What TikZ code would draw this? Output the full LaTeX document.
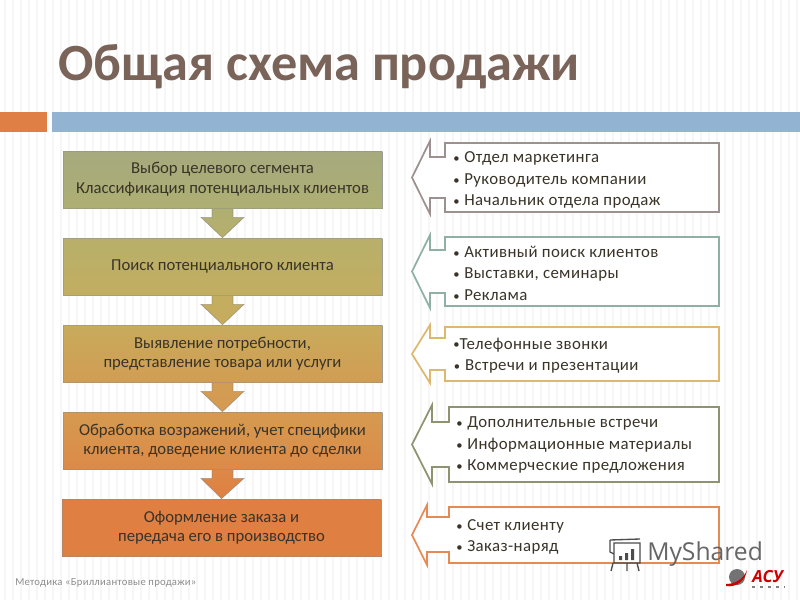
\documentclass[tikz,border=0pt]{standalone}
\usepackage{fontspec}
\setmainfont{Carlito}
\newfontfamily\rfont[LetterSpace=2.5]{Carlito}
\newfontfamily\wfont{Open Sans}
\usetikzlibrary{calc,shadows}
\pgfdeclarelayer{stripes}
\pgfdeclarelayer{arrows}
\pgfsetlayers{stripes,arrows,main}
\definecolor{orangeb}{HTML}{E07F45}
\definecolor{blueb}{HTML}{93B3D2}
\definecolor{titlec}{HTML}{7A645A}
\definecolor{txt}{HTML}{3A3328}
\definecolor{ca}{HTML}{9D9190}
\definecolor{cb}{HTML}{8FB0A6}
\definecolor{cc}{HTML}{DDB86E}
\definecolor{cd}{HTML}{8F9470}
\definecolor{ce}{HTML}{E58A55}
\definecolor{k1}{HTML}{A6AA7E}
\definecolor{k2}{HTML}{ADAF72}
\definecolor{k3}{HTML}{B8AF6B}
\definecolor{k4}{HTML}{C2AE60}
\definecolor{k5}{HTML}{C8AB5C}
\definecolor{k6}{HTML}{D19D53}
\definecolor{k7}{HTML}{D59A50}
\definecolor{k8}{HTML}{DC8A48}
\definecolor{k9}{HTML}{DF7F42}
\newcommand{\bul}{\scalebox{0.75}{•}\hspace{3.6pt}}
\tikzset{
 x=0.75pt,y=-0.75pt,
 stepbox/.style={minimum width=239.25pt,minimum height=42.75pt,inner sep=0pt,align=center,
   font=\fontsize{12.5pt}{14.3pt}\selectfont,text=txt,
   draw=black!45,draw opacity=.45,line width=0.5pt,
   drop shadow={shadow xshift=0.5pt,shadow yshift=-1pt,opacity=.35,fill=black}},
 listtext/.style={anchor=west,align=left,font=\rfont\fontsize{12.6pt}{16.2pt}\selectfont,text=txt,inner sep=0pt},
 flowarrow/.style={draw=black!50,line width=0.5pt,draw opacity=.6},
}
% #1 from node, #2 to node, #3 top colour, #4 bottom colour
\newcommand{\blockdown}[4]{%
 \path[flowarrow,top color=#3,bottom color=#4]
  ($(#1.south)+(-10.5,-3)$) -- ++(0,12) -- ++(-11,0) -- (#2.north) -- ($(#1.south)+(21.5,9)$) -- ++(-11,0) -- ++(0,-12) -- cycle;}
% #1 name, #2 colour, #3 left x, #4 right x, #5 top y, #6 bottom y, #7 head x, #8 notch top y, #9 notch bottom y
\newcommand{\callout}[9]{%
 \coordinate (#1-tip) at (412,{(#5+#6)/2});
 \draw[#2,line width=1.3pt,fill=white,line join=miter]
  (#3,#5) -- (#4,#5) -- (#4,#6) -- (#3,#6) -- (#3,#9) -- (#7,#9) -- (#7,#6+2) -- (#1-tip) -- (#7,#5-2) -- (#7,#8) -- (#3,#8) -- cycle;}
\begin{document}
\begin{tikzpicture}
\useasboundingbox (0,0) rectangle (800,600);
\begin{pgfonlayer}{stripes}
\fill[white] (0,0) rectangle (800,600);
\foreach \i in {0,...,99}{\fill[black!3.5] ({\i*8+4},0) rectangle ({\i*8+6},600);}
\end{pgfonlayer}
\fill[orangeb] (0,112) rectangle (47,132);
\fill[blueb] (52,112) rectangle (800,132);
\node[anchor=base west,inner sep=0pt,text=titlec,font=\bfseries\fontsize{39.2pt}{44pt}\selectfont] (title) at (58,80) {Общая схема продажи};

\node[stepbox,top color=k1,bottom color=k2] (s1) at (222.5,179.5) {\raisebox{-0.7pt}{\shortstack{Выбор целевого сегмента\\[1.3pt]Классификация потенциальных клиентов}}};
\node[stepbox,top color=k3,bottom color=k4] (s2) at (222.5,266.5) {\raisebox{-1.5pt}{Поиск потенциального клиента}};
\node[stepbox,top color=k5,bottom color=k6] (s3) at (222.5,353.5) {Выявление потребности,\\представление товара или услуги};
\node[stepbox,top color=k7,bottom color=k8] (s4) at (222.5,440.5) {Обработка возражений, учет специфики\\клиента, доведение клиента до сделки};
\node[stepbox,top color=k9,bottom color=k9] (s5) at (221.5,527.5) {Оформление заказа и\\передача его в производство};
\begin{pgfonlayer}{arrows}
\blockdown{s1}{s2}{k2}{k3}
\blockdown{s2}{s3}{k4}{k5}
\blockdown{s3}{s4}{k6}{k7}
\blockdown{s4}{s5}{k8}{k9}
\end{pgfonlayer}

\callout{a}{ca}{445}{719}{143}{212}{430}{157}{198}
\callout{b}{cb}{445}{719}{237}{306}{430}{250}{293}
\callout{c}{cc}{445}{719}{327}{381}{430}{338}{370}
\callout{d}{cd}{449}{719}{407}{482}{432}{422}{467}
\callout{e}{ce}{449}{719}{507}{563}{427}{517}{552}

\node[listtext] (ta) at (453,180) {\bul Отдел маркетинга\\\bul Руководитель компании\\\bul Начальник отдела продаж};
\node[listtext] (tb) at (453,273) {\bul Активный поиск клиентов\\\bul Выставки, семинары\\\bul Реклама};
\node[listtext] (tc) at (453,355.5) {\scalebox{0.75}{•}Телефонные звонки\\\hspace{0.5pt}\bul Встречи и презентации};
\node[listtext] (td) at (456,445) {\bul Дополнительные встречи\\\bul Информационные материалы\\\bul Коммерческие предложения};
\node[listtext] (te) at (456,537) {\bul Счет клиенту\\\bul Заказ-наряд};

\node[anchor=west,inner sep=0pt,text=black!45,font=\rfont\fontsize{8pt}{9pt}\selectfont] (foot) at (15,583) {Методика «Бриллиантовые продажи»};

% watermark
\node[anchor=west,inner sep=0pt,text=black!60,font=\wfont\fontsize{18.5pt}{22pt}\selectfont] (wm) at (647,554) {MyShared};
\draw[black!70,line width=1pt] (614,543) rectangle (640,563) (610,540) -- (640,539) (613,563) -- (611,571) (627,563) -- (627,571) (637,563) -- (639,571) (610,540) -- (610,552) -- (614,554);
\fill[black!70] (619,556) rectangle (622,560) (625,553) rectangle (628,560) (631,549) rectangle (634,560);
\node[anchor=west,inner sep=0pt,text=red!80!black,font=\wfont\bfseries\itshape\fontsize{12.5pt}{14pt}\selectfont] (logo) at (752,577) {АСУ};
\fill[black!55] (737,577) circle (8);
\fill[red!80!black] (726,584) .. controls (738,584) and (745,576) .. (747,570) .. controls (746,580) and (736,588) .. (726,586) -- cycle;
\draw[black!50,line width=0.8pt,dash pattern=on 2pt off 4pt] (752,587) -- (785,587);
\end{tikzpicture}
\end{document}
